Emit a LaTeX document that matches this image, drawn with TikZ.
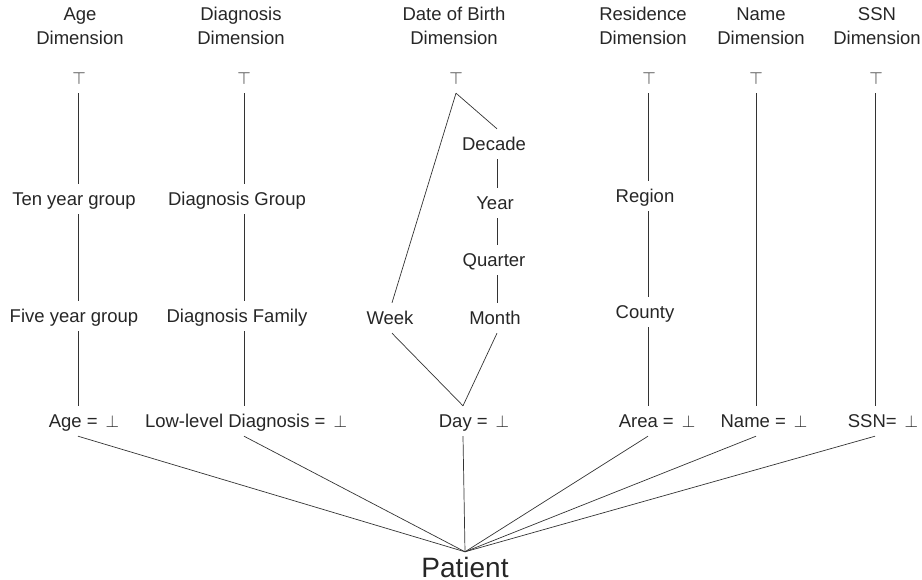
\documentclass[tikz,border=0pt]{standalone}
\usepackage{fontspec}
\setmainfont{Liberation Sans}
\usetikzlibrary{calc}
\newcommand\mybot{\hspace{8pt}$\bot$}
\begin{document}
\begin{tikzpicture}[x=1pt,y=-1pt,
  lbl/.style={font=\fontsize{18.5}{24}\selectfont, text=black!85, inner sep=0pt,
              minimum height=30pt, text height=13pt, text depth=0pt},
  ttl/.style={font=\fontsize{18.5}{24}\selectfont, text=black!85, align=center,
              inner sep=0pt, anchor=north},
  big/.style={font=\fontsize{28}{32}\selectfont, text=black!85, inner sep=0pt,
              minimum height=30pt, text height=20pt, text depth=0pt},
  edge/.style={draw=black!80, line width=0.7pt}]
\useasboundingbox (0,0) rectangle (922,580);
% column coordinates
\coordinate (cA) at (78,0);
\coordinate (cG) at (244,0);
\coordinate (cW) at (392,0);
\coordinate (cDay) at (463,0);
\coordinate (cD) at (497,0);
\coordinate (cR) at (648,0);
\coordinate (cN) at (756,0);
\coordinate (cS) at (875,0);
% titles
\node[ttl] (tAge)  at (80,7.3)  {Age\\Dimension};
\node[ttl] (tDiag) at (241,7.3) {Diagnosis\\Dimension};
\node[ttl] (tDob)  at (454,7.3) {Date of Birth\\Dimension};
\node[ttl] (tRes)  at (643,7.3) {Residence\\Dimension};
\node[ttl] (tName) at (761,7.3) {Name\\Dimension};
\node[ttl] (tSsn)  at (877,7.3) {SSN\\Dimension};
% tops
\node[lbl] (topAge)  at (79,78)  {$\top$};
\node[lbl] (topDiag) at (244,78) {$\top$};
\node[lbl] (topDob)  at (456,78) {$\top$};
\node[lbl] (topRes)  at (649,78) {$\top$};
\node[lbl] (topName) at (756,78) {$\top$};
\node[lbl] (topSsn)  at (876,78) {$\top$};
% age
\node[lbl] (ten)  at (74,199) {Ten year group};
\node[lbl] (five) at (74,316) {Five year group};
\node[lbl] (age)  at (84,421) {Age =\mybot};
% diagnosis
\node[lbl] (dgroup) at (237,199) {Diagnosis Group};
\node[lbl] (dfam)   at (237,316) {Diagnosis Family};
\node[lbl] (low)    at (246,421) {Low-level Diagnosis =\mybot};
% date of birth
\node[lbl] (decade)  at (494,144) {Decade};
\node[lbl] (year)    at (495,203) {Year};
\node[lbl] (quarter) at (494,260) {Quarter};
\node[lbl] (month)   at (495,318) {Month};
\node[lbl] (week)    at (390,318) {Week};
\node[lbl] (day)     at (474,421) {Day =\mybot};
% residence
\node[lbl] (region) at (645,196) {Region};
\node[lbl] (county) at (645,312) {County};
\node[lbl] (area)   at (657,421) {Area =\mybot};
% name, ssn
\node[lbl] (name) at (764,421) {Name =\mybot};
\node[lbl] (ssn)  at (883,421) {SSN=\mybot};
% patient
\node[big] (patient) at (465,567) {Patient};
% age edges
\draw[edge] (topAge.south -| cA) -- (ten.north -| cA);
\draw[edge] (ten.south -| cA) -- (five.north -| cA);
\draw[edge] (five.south -| cA) -- (age.north -| cA);
% diagnosis edges
\draw[edge] (topDiag.south -| cG) -- (dgroup.north -| cG);
\draw[edge] (dgroup.south -| cG) -- (dfam.north -| cG);
\draw[edge] (dfam.south -| cG) -- (low.north -| cG);
% dob edges
\draw[edge] (topDob.south) -- (week.north -| cW);
\draw[edge] (topDob.south) -- (decade.north -| cD);
\draw[edge] (decade.south -| cD) -- (year.north -| cD);
\draw[edge] (year.south -| cD) -- (quarter.north -| cD);
\draw[edge] (quarter.south -| cD) -- (month.north -| cD);
\draw[edge] (month.south -| cD) -- (day.north -| cDay);
\draw[edge] (week.south -| cW) -- (day.north -| cDay);
% residence edges
\draw[edge] (topRes.south -| cR) -- (region.north -| cR);
\draw[edge] (region.south -| cR) -- (county.north -| cR);
\draw[edge] (county.south -| cR) -- (area.north -| cR);
% name, ssn
\draw[edge] (topName.south -| cN) -- (name.north -| cN);
\draw[edge] (topSsn.south -| cS) -- (ssn.north -| cS);
% to patient
\draw[edge] (age.south -| cA) -- (patient.north);
\draw[edge] (low.south -| cG) -- (patient.north);
\draw[edge] (day.south -| cDay) -- (patient.north);
\draw[edge] (area.south -| cR) -- (patient.north);
\draw[edge] (name.south -| cN) -- (patient.north);
\draw[edge] (ssn.south -| cS) -- (patient.north);
\end{tikzpicture}
\end{document}
